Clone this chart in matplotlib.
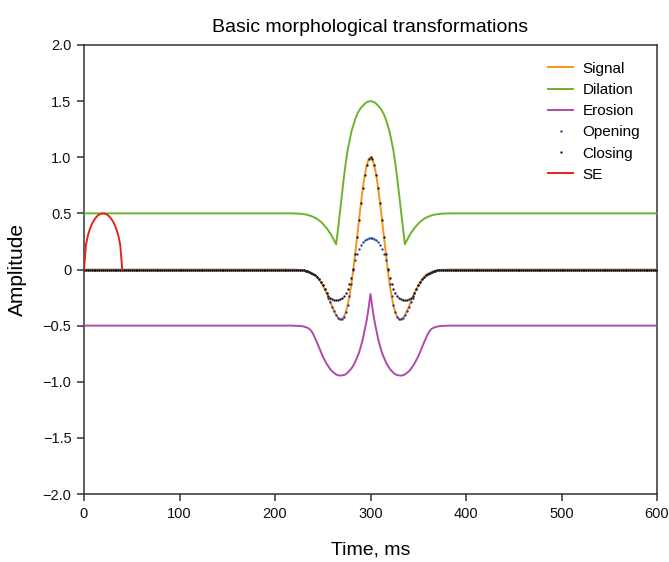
import numpy as np
import matplotlib
matplotlib.use("Agg")
import matplotlib.pyplot as plt

plt.rcParams['font.family'] = ['Liberation Sans', 'DejaVu Sans']

# Sample grid (ms) and the window around the wavelet where the curves differ from their baselines
t_start, t_stop, dt = 0, 600, 2
win_start, win_stop = 220, 380

signal_base = 0.0
dilation_base = 0.5
erosion_base = -0.5
opening_base = 0.0
closing_base = 0.0

signal_win = [
    -0.001, -0.002, -0.002, -0.003, -0.005, -0.007, -0.011, -0.015, -0.021, -0.029,
    -0.039, -0.052, -0.069, -0.089, -0.113, -0.142, -0.175, -0.212, -0.251, -0.292,
    -0.334, -0.373, -0.406, -0.431, -0.445, -0.443, -0.423, -0.383, -0.319, -0.234,
    -0.126, 0.000, 0.142, 0.292, 0.445, 0.593, 0.727, 0.841, 0.927, 0.982,
    1.000,
    0.982, 0.927, 0.841, 0.727, 0.593, 0.445, 0.292, 0.142, 0.000, -0.126,
    -0.234, -0.319, -0.383, -0.423, -0.443, -0.445, -0.431, -0.406, -0.373, -0.334,
    -0.292, -0.251, -0.212, -0.175, -0.142, -0.113, -0.089, -0.069, -0.052, -0.039,
    -0.029, -0.021, -0.015, -0.011, -0.007, -0.005, -0.003, -0.002, -0.002, -0.001,
]

dilation_win = [
    0.499, 0.498, 0.498, 0.497, 0.495, 0.493, 0.490, 0.487, 0.482, 0.476,
    0.469, 0.461, 0.451, 0.438, 0.425, 0.408, 0.389, 0.369, 0.345, 0.320,
    0.291, 0.258, 0.225, 0.360, 0.510, 0.663, 0.811, 0.945, 1.059, 1.145,
    1.227, 1.285, 1.339, 1.382, 1.415, 1.440, 1.459, 1.477, 1.490, 1.497,
    1.500,
    1.497, 1.490, 1.477, 1.459, 1.440, 1.415, 1.382, 1.339, 1.285, 1.227,
    1.145, 1.059, 0.945, 0.811, 0.663, 0.510, 0.360, 0.225, 0.258, 0.291,
    0.320, 0.345, 0.369, 0.389, 0.408, 0.425, 0.438, 0.451, 0.461, 0.469,
    0.476, 0.482, 0.487, 0.490, 0.493, 0.495, 0.497, 0.498, 0.498, 0.499,
]

erosion_win = [
    -0.501, -0.502, -0.502, -0.503, -0.505, -0.508, -0.513, -0.519, -0.529, -0.547,
    -0.575, -0.612, -0.651, -0.692, -0.734, -0.773, -0.806, -0.839, -0.864, -0.890,
    -0.908, -0.922, -0.935, -0.942, -0.945, -0.943, -0.941, -0.933, -0.920, -0.902,
    -0.882, -0.856, -0.823, -0.783, -0.740, -0.683, -0.619, -0.537, -0.452, -0.344,
    -0.218,
    -0.344, -0.452, -0.537, -0.619, -0.683, -0.740, -0.783, -0.823, -0.856, -0.882,
    -0.902, -0.920, -0.933, -0.941, -0.943, -0.945, -0.942, -0.935, -0.922, -0.908,
    -0.890, -0.864, -0.839, -0.806, -0.773, -0.734, -0.692, -0.651, -0.612, -0.575,
    -0.547, -0.529, -0.519, -0.513, -0.508, -0.505, -0.503, -0.502, -0.502, -0.501,
]

opening_win = [
    -0.001, -0.002, -0.002, -0.003, -0.005, -0.007, -0.011, -0.015, -0.021, -0.029,
    -0.039, -0.052, -0.069, -0.089, -0.113, -0.142, -0.175, -0.212, -0.251, -0.292,
    -0.334, -0.373, -0.406, -0.431, -0.445, -0.443, -0.423, -0.383, -0.319, -0.234,
    -0.126, 0.000, 0.082, 0.140, 0.182, 0.215, 0.241, 0.259, 0.272, 0.280,
    0.282,
    0.280, 0.272, 0.259, 0.241, 0.215, 0.182, 0.140, 0.082, 0.000, -0.126,
    -0.234, -0.319, -0.383, -0.423, -0.443, -0.445, -0.431, -0.406, -0.373, -0.334,
    -0.292, -0.251, -0.212, -0.175, -0.142, -0.113, -0.089, -0.069, -0.052, -0.039,
    -0.029, -0.021, -0.015, -0.011, -0.007, -0.005, -0.003, -0.002, -0.002, -0.001,
]

closing_win = [
    -0.001, -0.002, -0.002, -0.003, -0.005, -0.007, -0.011, -0.015, -0.021, -0.029,
    -0.039, -0.052, -0.069, -0.089, -0.113, -0.142, -0.175, -0.208, -0.233, -0.252,
    -0.265, -0.272, -0.275, -0.272, -0.265, -0.252, -0.233, -0.208, -0.175, -0.132,
    -0.075, 0.007, 0.142, 0.292, 0.445, 0.593, 0.727, 0.841, 0.927, 0.982,
    1.000,
    0.982, 0.927, 0.841, 0.727, 0.593, 0.445, 0.292, 0.142, 0.007, -0.075,
    -0.132, -0.175, -0.208, -0.233, -0.252, -0.265, -0.272, -0.275, -0.272, -0.265,
    -0.252, -0.233, -0.208, -0.175, -0.142, -0.113, -0.089, -0.069, -0.052, -0.039,
    -0.029, -0.021, -0.015, -0.011, -0.007, -0.005, -0.003, -0.002, -0.002, -0.001,
]

# Structuring element (half-ellipse, 40 ms wide)
se_t = [0, 2, 4, 6, 8, 10, 12, 14, 16, 18, 20, 22, 24, 26, 28, 30, 32, 34, 36, 38, 40]
se_val = [0.0, 0.218, 0.300, 0.357, 0.400, 0.433, 0.458, 0.477, 0.490, 0.497, 0.500,
          0.497, 0.490, 0.477, 0.458, 0.433, 0.400, 0.357, 0.300, 0.218, 0.0]

x_ticks = [0, 100, 200, 300, 400, 500, 600]
y_ticks = [-2.0, -1.5, -1.0, -0.5, 0.0, 0.5, 1.0, 1.5, 2.0]
y_ticklabels = ['\u22122.0', '\u22121.5', '\u22121.0', '\u22120.5', '0', '0.5', '1.0', '1.5', '2.0']

t = np.arange(t_start, t_stop + dt, dt)
i0 = int((win_start - t_start) // dt)
i1 = int((win_stop - t_start) // dt) + 1


def full_series(base, window):
    arr = np.full(t.shape, base, dtype=float)
    arr[i0:i1] = window
    return arr


signal = full_series(signal_base, signal_win)
dilation = full_series(dilation_base, dilation_win)
erosion = full_series(erosion_base, erosion_win)
opening = full_series(opening_base, opening_win)
closing = full_series(closing_base, closing_win)

fig = plt.figure(figsize=(6.69, 5.62), dpi=100)
ax = fig.add_axes([84 / 669, 1 - 494 / 562, (657 - 84) / 669, (494 - 45) / 562])

ax.plot(t, signal, color='#f7941d', lw=1.4, label='Signal', zorder=3)
ax.plot(t, dilation, color='#6ab42d', lw=1.4, label='Dilation', zorder=3)
ax.plot(t, erosion, color='#b04aa6', lw=1.4, label='Erosion', zorder=3)
ax.plot(t, opening, ls='none', marker='o', ms=1.7, mew=0, color='#1f3c9e',
        label='Opening', zorder=4)
ax.plot(t, closing, ls='none', marker='o', ms=1.7, mew=0, color='#1a1a1a',
        label='Closing', zorder=5)
ax.plot(se_t, se_val, color='#e3241b', lw=1.4, label='SE', zorder=6)

ax.set_xlim(0, 600)
ax.set_ylim(-2.0, 2.0)
ax.set_xticks(x_ticks)
ax.set_yticks(y_ticks)
ax.set_yticklabels(y_ticklabels)
ax.tick_params(direction='out', length=5, width=1.1, color='#333333',
               labelsize=10.5, labelcolor='#111111', pad=4)
for sp in ax.spines.values():
    sp.set_linewidth(1.1)
    sp.set_color('#333333')

ax.set_title('Basic morphological transformations', fontsize=14, pad=9)
ax.set_xlabel('Time, ms', fontsize=14, labelpad=15)
ax.set_ylabel('Amplitude', fontsize=15, labelpad=11)

leg = ax.legend(loc='upper right', frameon=False, fontsize=11, handlelength=1.65,
                numpoints=1, labelspacing=0.47, borderaxespad=0.7,
                handletextpad=0.6, markerscale=1.0)

fig.savefig('out.png', dpi=100)
